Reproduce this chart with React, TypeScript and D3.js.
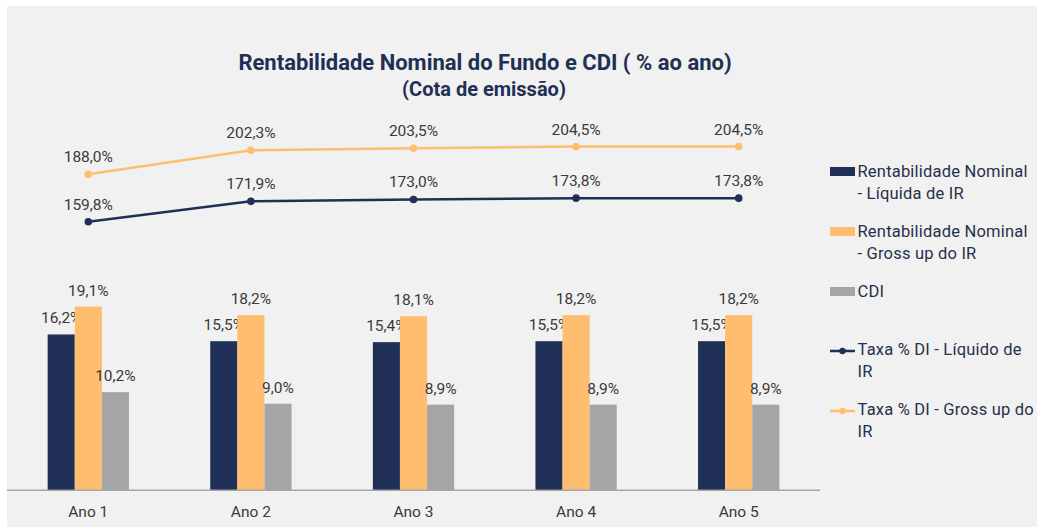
import React from "react";
import * as d3 from "d3";

const categories = ["Ano 1", "Ano 2", "Ano 3", "Ano 4", "Ano 5"];
const liquida = [16.2, 15.5, 15.4, 15.5, 15.5];
const gross = [19.1, 18.2, 18.1, 18.2, 18.2];
const cdi = [10.2, 9.0, 8.9, 8.9, 8.9];
const taxaLiq = [159.8, 171.9, 173.0, 173.8, 173.8];
const taxaGross = [188.0, 202.3, 203.5, 204.5, 204.5];

const barSeries = [
  { key: "liq", values: liquida, color: "#1f2f55" },
  { key: "gross", values: gross, color: "#ffbe6f" },
  { key: "cdi", values: cdi, color: "#a5a5a5" },
];
const lineSeries = [
  { key: "tl", values: taxaLiq, color: "#1f2f55" },
  { key: "tg", values: taxaGross, color: "#ffbe6f" },
];

const legendItems = [
  { type: "rect", color: "#1f2f55", lines: ["Rentabilidade Nominal", "- Líquida de IR"], y: 171 },
  { type: "rect", color: "#ffbe6f", lines: ["Rentabilidade Nominal", "- Gross up do IR"], y: 231 },
  { type: "rect", color: "#a5a5a5", lines: ["CDI"], y: 291 },
  { type: "line", color: "#1f2f55", lines: ["Taxa % DI - Líquido de", "IR"], y: 351 },
  { type: "line", color: "#ffbe6f", lines: ["Taxa % DI - Gross up do", "IR"], y: 411 },
];

const fmt = (v: number) => v.toFixed(1).replace(".", ",") + "%";

const FONT = "Roboto, sans-serif";
const TXT = "#3a3a3a";

export default function App() {
  const W = 1040, H = 527;
  const baseY = 490.3;
  const x0 = d3.scaleBand<string>().domain(categories).range([7, 820]).paddingInner(0.5).paddingOuter(0.25);
  const x1 = d3.scaleBand<string>().domain(barSeries.map((s) => s.key)).range([0, x0.bandwidth()]);
  const yBar = d3.scaleLinear().domain([0, 40]).range([baseY, baseY - 40 * 9.62]);
  const yLine = d3.scaleLinear().domain([0, 229]).range([baseY, baseY - 229 * 1.681]);
  const cx = (c: string) => (x0(c) as number) + x0.bandwidth() / 2;
  const lineGen = d3.line<number>().x((_, i) => cx(categories[i])).y((v) => yLine(v));

  return (
    <svg width={W} height={H} style={{ position: "absolute", left: 0, top: 0, display: "block" }}>
      <rect x={0} y={0} width={W} height={H} fill="#ffffff" />
      <rect x={7} y={6} width={1030} height={521} fill="#f1f1f1" />
      <text x={485} y={70} textAnchor="middle" fontFamily={FONT} fontWeight={700} fontSize={22} fill="#1f2f55">
        Rentabilidade Nominal do Fundo e CDI ( % ao ano)
      </text>
      <text x={484} y={96} textAnchor="middle" fontFamily={FONT} fontWeight={700} fontSize={20} fill="#1f2f55">
        (Cota de emissão)
      </text>

      {barSeries.map((s) =>
        s.values.map((v, i) => {
          const c = categories[i];
          const bx = (x0(c) as number) + (x1(s.key) as number);
          return (
            <g key={s.key + i}>
              <rect x={bx} y={yBar(v)} width={x1.bandwidth()} height={baseY - yBar(v)} fill={s.color} />
              <text x={bx + x1.bandwidth() / 2} y={yBar(v) - 11} textAnchor="middle" fontFamily={FONT} fontSize={15.5} fill={TXT}>
                {fmt(v)}
              </text>
            </g>
          );
        })
      )}

      <line x1={7} x2={820} y1={baseY} y2={baseY} stroke="#a6a6a6" strokeWidth={1.5} />
      {categories.map((c) => (
        <text key={c} x={cx(c)} y={517} textAnchor="middle" fontFamily={FONT} fontSize={15.5} fill={TXT}>
          {c}
        </text>
      ))}

      {lineSeries.map((s) => (
        <g key={s.key}>
          <path d={lineGen(s.values) as string} fill="none" stroke={s.color} strokeWidth={2.5} />
          {s.values.map((v, i) => (
            <g key={i}>
              <circle cx={cx(categories[i])} cy={yLine(v)} r={3.8} fill={s.color} />
              <text x={cx(categories[i])} y={yLine(v) - 12} textAnchor="middle" fontFamily={FONT} fontSize={15.5} fill={TXT}>
                {fmt(v)}
              </text>
            </g>
          ))}
        </g>
      ))}

      {legendItems.map((it, k) => (
        <g key={k}>
          {it.type === "rect" ? (
            <rect x={830} y={it.y - 4} width={25} height={9} fill={it.color} />
          ) : (
            <g>
              <line x1={830} x2={855} y1={it.y} y2={it.y} stroke={it.color} strokeWidth={2.5} />
              <circle cx={842.5} cy={it.y} r={3.2} fill={it.color} />
            </g>
          )}
          {it.lines.map((t, j) => (
            <text key={j} x={857.5} y={it.y + (it.type === "rect" ? 6 : 4) + j * 21.7} fontFamily={FONT} fontSize={16.5} letterSpacing={0.2} fill="#26304a">
              {t}
            </text>
          ))}
        </g>
      ))}
    </svg>
  );
}
